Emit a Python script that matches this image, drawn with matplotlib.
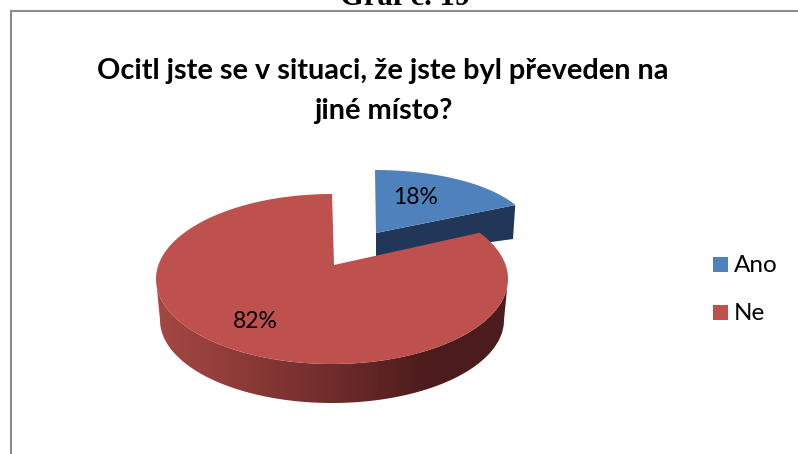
import matplotlib
matplotlib.use("Agg")
import matplotlib.pyplot as plt
import numpy as np
from matplotlib.patches import Polygon, Rectangle

categories = ["Ano", "Ne"]
values = [18, 82]
colors = ["#4f81bd", "#be504d"]
title_lines = ["Ocitl jste se v situaci, že jste byl převeden na", "jiné místo?"]
heading = "Graf č. 19"

W, H = 798, 454
# the tilted view squeezes angles at the back of the large slice
TILT_SQUEEZE = 0.88


def arc(cx, cy, a, b, start, stop, n=200):
    # angles in degrees, clockwise from 12 o'clock
    t = np.radians(np.linspace(start, stop, n))
    return np.column_stack([cx + a * np.sin(t), cy - b * np.cos(t)])


fig = plt.figure(figsize=(W / 100, H / 100), dpi=100)
ax = fig.add_axes([0, 0, 1, 1])
ax.set_xlim(0, W)
ax.set_ylim(H, 0)
ax.axis("off")

# chart frame runs off the right and bottom edges
ax.plot([10.5, 10.5, W + 5], [H + 5, 11, 11], color="#8c8c8c", lw=1.5, solid_joinstyle="miter")

# page heading sits above the frame and is cropped by the top edge
ax.text(405, 5, heading, family="Liberation Serif", fontweight="bold", fontsize=22,
        ha="center", va="baseline", color="black")
ax.text(383, 70.5, title_lines[0], family="Lato", fontweight="bold", fontsize=20.8,
        ha="center", va="center", color="black")
ax.text(383, 111.5, title_lines[1], family="Lato", fontweight="bold", fontsize=20.8,
        ha="center", va="center", color="black")

split = 360 * values[0] / sum(values)

# exploded slice: side wall first, then the top face
blue_rim = arc(375, 231, 155, 61, 0, split)
side = np.vstack([[[376, 233]], blue_rim[-1:], [[513, 239]], [[376, 258]]])
ax.add_patch(Polygon(side, closed=True, fc="#21375a", ec="none", zorder=2))
ax.add_patch(Polygon(np.vstack([[[376, 233]], blue_rim]), closed=True, fc=colors[0],
                     ec="none", zorder=3))

# large slice wall, shaded left to right and clipped to the rim outline
top_low = arc(332, 279, 176, 85, 270, 90)
wall_low = arc(332, 320, 172, 83, 90, 270)
wall = np.vstack([top_low, wall_low])
wall_patch = Polygon(wall, closed=True, fc="none", ec="none", zorder=4)
ax.add_patch(wall_patch)
ramp = np.interp(np.linspace(156, 507, 256), [156, 215, 330, 430, 507], [0, 0.18, 0.6, 1, 1])
dark = np.array([0x4c, 0x1b, 0x1b]) / 255
light = np.array([0xa5, 0x47, 0x43]) / 255
gradient = (light[None, :] * (1 - ramp[:, None]) + dark[None, :] * ramp[:, None])[None, :, :]
im = ax.imshow(gradient, extent=[156, 507, 410, 270], aspect="auto", zorder=4)
im.set_clip_path(wall_patch)
ax.set_xlim(0, W)
ax.set_ylim(H, 0)

# large slice top face, from the end of the first slice round to 12 o'clock
red_rim = arc(332, 279, 176, 85, split * TILT_SQUEEZE, 360, 400)
ax.add_patch(Polygon(np.vstack([[[334, 265]], red_rim]), closed=True, fc=colors[1],
                     ec="none", zorder=5))

ax.text(415.5, 198, f"{values[0]}%", family="Lato", fontsize=16.5, ha="center", va="center", zorder=6)
ax.text(255.5, 321, f"{values[1]}%", family="Lato", fontsize=16.5, ha="center", va="center", zorder=6)

# legend
for y, label, color in zip([264.5, 312.5], categories, colors):
    ax.add_patch(Rectangle((713, y - 7.5), 15, 15, fc=color, ec="none"))
    ax.text(734, y + 1, label, family="Lato", fontsize=17.5, ha="left", va="center")

fig.savefig("out.png", dpi=100)
